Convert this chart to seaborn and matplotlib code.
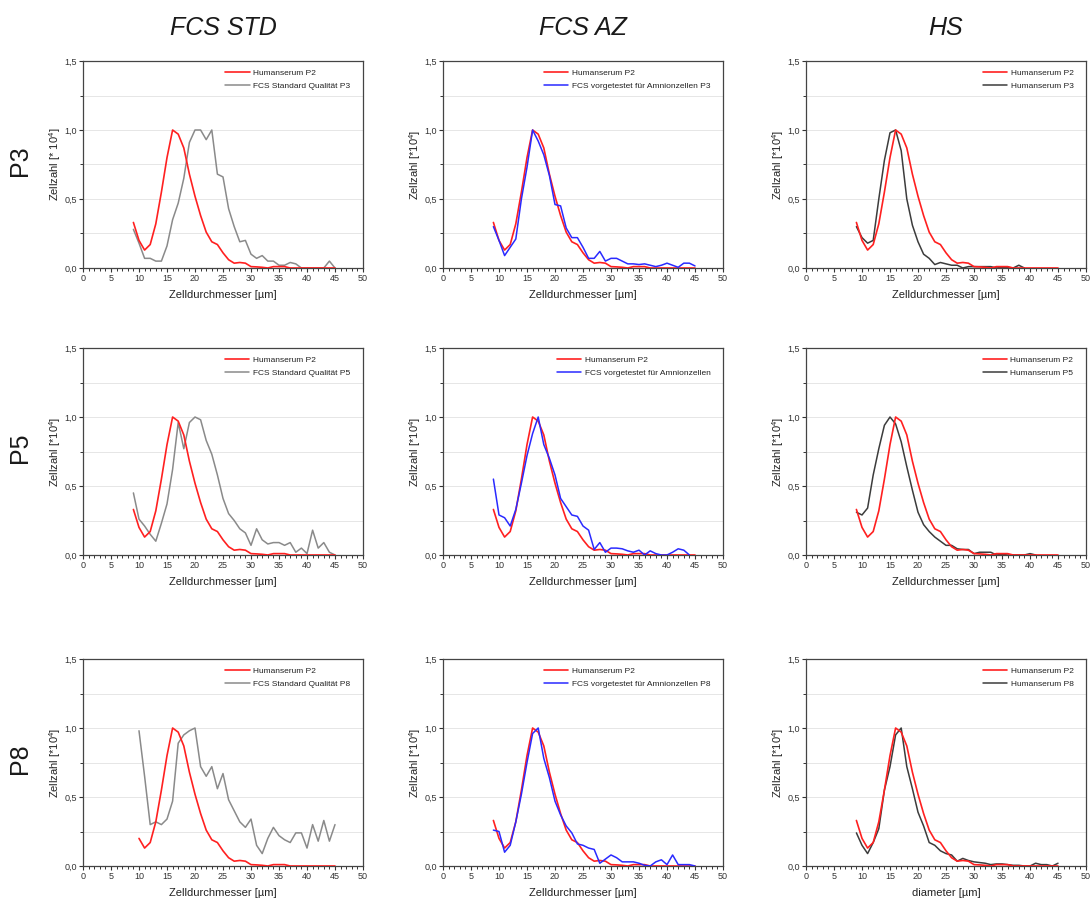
import numpy as np
import pandas as pd
import matplotlib
matplotlib.use("Agg")
import matplotlib.pyplot as plt
from matplotlib.ticker import MultipleLocator, FuncFormatter
import seaborn as sns

sns.set_theme(style="white")
plt.rcParams["font.family"] = ["Liberation Sans", "DejaVu Sans"]
plt.rcParams["mathtext.default"] = "regular"

# ---- data: normalised cell counts per diameter bin (µm) ----
diam_9_45 = list(range(9, 46))
diam_10_45 = list(range(10, 46))
diam_9_39 = list(range(9, 40))
diam_9_41 = list(range(9, 42))
diam_9_44 = list(range(9, 45))

hs_p2 = [0.33, 0.20, 0.13, 0.17, 0.32, 0.55, 0.80, 1.00, 0.97, 0.87, 0.68, 0.52,
         0.38, 0.26, 0.19, 0.17, 0.11, 0.06, 0.035, 0.04, 0.035, 0.01, 0.008,
         0.005, 0.0, 0.01, 0.01, 0.01, 0.0, 0.0, 0.0, 0.0, 0.0, 0.0, 0.0, 0.0, 0.0]

fcs_std_p3 = [0.28, 0.18, 0.07, 0.07, 0.05, 0.05, 0.16, 0.35, 0.47, 0.65, 0.91,
              1.00, 1.00, 0.93, 1.00, 0.68, 0.66, 0.43, 0.30, 0.19, 0.20, 0.10,
              0.07, 0.09, 0.05, 0.05, 0.02, 0.02, 0.04, 0.03, 0.0, 0.0, 0.0, 0.0,
              0.0, 0.05, 0.0]
fcs_std_p5 = [0.45, 0.26, 0.21, 0.15, 0.10, 0.23, 0.37, 0.62, 0.96, 0.77, 0.96,
              1.00, 0.98, 0.83, 0.73, 0.58, 0.41, 0.30, 0.25, 0.19, 0.16, 0.07,
              0.19, 0.11, 0.08, 0.09, 0.09, 0.07, 0.09, 0.02, 0.05, 0.01, 0.18,
              0.05, 0.09, 0.02, 0.0]
fcs_std_p8 = [0.98, 0.65, 0.30, 0.32, 0.30, 0.34, 0.47, 0.89, 0.95, 0.98, 1.00,
              0.72, 0.65, 0.72, 0.56, 0.67, 0.48, 0.40, 0.32, 0.28, 0.34, 0.15,
              0.09, 0.20, 0.28, 0.22, 0.19, 0.17, 0.24, 0.24, 0.13, 0.30, 0.18,
              0.33, 0.18, 0.30]

fcs_az_p3 = [0.30, 0.20, 0.09, 0.15, 0.21, 0.50, 0.73, 1.00, 0.92, 0.82, 0.67,
             0.46, 0.45, 0.29, 0.22, 0.22, 0.15, 0.07, 0.07, 0.12, 0.05, 0.07,
             0.07, 0.05, 0.03, 0.03, 0.025, 0.03, 0.02, 0.01, 0.02, 0.035, 0.02,
             0.005, 0.035, 0.035, 0.015]
fcs_az_p5 = [0.55, 0.29, 0.27, 0.21, 0.33, 0.52, 0.72, 0.88, 1.00, 0.80, 0.70,
             0.58, 0.41, 0.35, 0.29, 0.28, 0.21, 0.18, 0.04, 0.09, 0.02, 0.05,
             0.05, 0.045, 0.03, 0.02, 0.035, 0.0, 0.03, 0.01, 0.0, 0.0, 0.02,
             0.045, 0.035, 0.0]
fcs_az_p8 = [0.26, 0.25, 0.10, 0.15, 0.32, 0.52, 0.75, 0.96, 1.00, 0.78, 0.64,
             0.47, 0.37, 0.29, 0.24, 0.16, 0.15, 0.13, 0.12, 0.02, 0.05, 0.08,
             0.06, 0.03, 0.03, 0.03, 0.02, 0.005, 0.0, 0.03, 0.045, 0.01, 0.08,
             0.01, 0.01, 0.01, 0.0]

hs_p3 = [0.30, 0.22, 0.18, 0.20, 0.50, 0.78, 0.98, 1.00, 0.85, 0.50, 0.31, 0.19,
         0.10, 0.07, 0.025, 0.04, 0.03, 0.02, 0.02, 0.0, 0.01, 0.01, 0.01, 0.01,
         0.01, 0.0, 0.005, 0.005, 0.0, 0.02, 0.0]
hs_p5 = [0.31, 0.29, 0.34, 0.58, 0.77, 0.94, 1.00, 0.95, 0.82, 0.64, 0.47, 0.31,
         0.22, 0.17, 0.13, 0.10, 0.07, 0.07, 0.045, 0.04, 0.04, 0.01, 0.02, 0.02,
         0.02, 0.0, 0.005, 0.0, 0.0, 0.0, 0.0, 0.01, 0.0]
hs_p8 = [0.24, 0.15, 0.09, 0.17, 0.27, 0.55, 0.72, 0.95, 1.00, 0.72, 0.56, 0.39,
         0.29, 0.17, 0.15, 0.11, 0.09, 0.08, 0.035, 0.055, 0.04, 0.03, 0.025,
         0.02, 0.01, 0.015, 0.015, 0.01, 0.005, 0.005, 0.0, 0.0, 0.02, 0.01,
         0.01, 0.0, 0.02]

col_titles = ["FCS STD", "FCS AZ", "HS"]
row_labels = ["P3", "P5", "P8"]

RED = "#ff2020"
GREY = "#8a8a8a"
DARK = "#3c3c3c"
BLUE = "#2a2aff"

# (reference x, reference y, compare x, compare y, compare label, colour, ylabel, xlabel)
panels = [
    [(diam_9_45, hs_p2, diam_9_45, fcs_std_p3, "FCS Standard Qualität P3", GREY, "Zellzahl [* 10$^4$]", "Zelldurchmesser [µm]"),
     (diam_9_45, hs_p2, diam_9_45, fcs_az_p3, "FCS vorgetestet für Amnionzellen P3", BLUE, "Zellzahl [*10$^4$]", "Zelldurchmesser [µm]"),
     (diam_9_45, hs_p2, diam_9_39, hs_p3, "Humanserum P3", DARK, "Zellzahl [*10$^4$]", "Zelldurchmesser [µm]")],
    [(diam_9_45, hs_p2, diam_9_45, fcs_std_p5, "FCS Standard Qualität P5", GREY, "Zellzahl [*10$^4$]", "Zelldurchmesser [µm]"),
     (diam_9_45, hs_p2, diam_9_44, fcs_az_p5, "FCS vorgetestet für Amnionzellen", BLUE, "Zellzahl [*10$^4$]", "Zelldurchmesser [µm]"),
     (diam_9_45, hs_p2, diam_9_41, hs_p5, "Humanserum P5", DARK, "Zellzahl [*10$^4$]", "Zelldurchmesser [µm]")],
    [(diam_10_45, hs_p2[1:], diam_10_45, fcs_std_p8, "FCS Standard Qualität P8", GREY, "Zellzahl [*10$^4$]", "Zelldurchmesser [µm]"),
     (diam_9_45, hs_p2, diam_9_45, fcs_az_p8, "FCS vorgetestet für Amnionzellen P8", BLUE, "Zellzahl [*10$^4$]", "Zelldurchmesser [µm]"),
     (diam_9_45, hs_p2, diam_9_45, hs_p8, "Humanserum P8", DARK, "Zellzahl [*10$^4$]", "diameter [µm]")],
]

W, H = 1091, 900
fig = plt.figure(figsize=(W / 100, H / 100), dpi=100)
fig.patch.set_facecolor("white")

col_left = [83, 443, 806]
row_top = [61, 348, 659]
ax_w, ax_h = 280, 207

comma = FuncFormatter(lambda v, p: f"{v:.1f}".replace(".", ","))

for r in range(3):
    for c in range(3):
        x0, y0 = col_left[c], row_top[r]
        ax = fig.add_axes([x0 / W, 1 - (y0 + ax_h) / H, ax_w / W, ax_h / H])
        rx, ry, cx, cy, clab, ccol, ylab, xlab = panels[r][c]
        ref_df = pd.DataFrame({"d": rx, "n": ry})
        cmp_df = pd.DataFrame({"d": cx, "n": cy})
        sns.lineplot(data=ref_df, x="d", y="n", ax=ax, color=RED, lw=1.2,
                     label="Humanserum P2", zorder=3)
        sns.lineplot(data=cmp_df, x="d", y="n", ax=ax, color=ccol, lw=1.1,
                     label=clab, zorder=4 if ccol == BLUE else 2)
        ax.set_xlim(0, 50)
        ax.set_ylim(0, 1.5)
        ax.xaxis.set_major_locator(MultipleLocator(5))
        ax.xaxis.set_minor_locator(MultipleLocator(1))
        ax.yaxis.set_major_locator(MultipleLocator(0.5))
        ax.yaxis.set_minor_locator(MultipleLocator(0.25))
        ax.yaxis.set_major_formatter(comma)
        ax.grid(True, which="both", axis="y", color="#e6e6e6", lw=0.7, zorder=0)
        ax.set_axisbelow(True)
        ax.tick_params(which="major", direction="out", length=3, width=0.8,
                       colors="#333333", labelsize=6.5, pad=1.5,
                       bottom=True, left=True)
        ax.tick_params(which="minor", direction="out", length=2, width=0.7,
                       colors="#333333", bottom=True, left=True)
        for s in ax.spines.values():
            s.set_color("#444444")
            s.set_linewidth(0.9)
            s.set_visible(True)
        ax.set_xlabel(xlab, fontsize=8, color="#222222", labelpad=5)
        ax.set_ylabel(ylab, fontsize=8, color="#222222", labelpad=1)
        leg = ax.legend(loc="upper right", frameon=False, fontsize=6.0,
                        handlelength=2.9, handletextpad=0.45, labelspacing=0.6,
                        borderaxespad=0.6, bbox_to_anchor=(0.985, 1.0))
        for t in leg.get_texts():
            t.set_color("#222222")
        if r == 0:
            ax.text(0.5, 1 + 33 / ax_h, col_titles[c], transform=ax.transAxes,
                    ha="center", va="center", fontsize=18, style="italic",
                    color="#1a1a1a")
    fig.text(20 / W, 1 - (row_top[r] + 100) / H, row_labels[r], rotation=90,
             ha="center", va="center", fontsize=18, color="#1a1a1a")

fig.savefig("out.png", dpi=100, facecolor="white")
